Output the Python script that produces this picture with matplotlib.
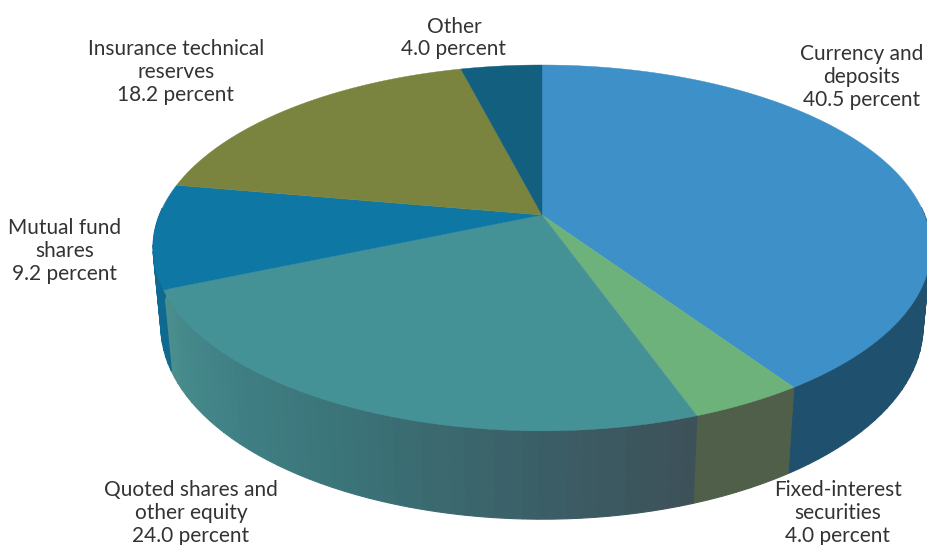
import numpy as np
import matplotlib.pyplot as plt
from matplotlib.colors import to_rgb

plt.rcParams['font.family'] = ['Lato', 'DejaVu Sans']

categories = ["Currency and\ndeposits", "Fixed-interest\nsecurities", "Quoted shares and\nother equity",
              "Mutual fund\nshares", "Insurance technical\nreserves", "Other"]
shares = [40.5, 4.0, 24.0, 9.2, 18.2, 4.0]

top_colors = ["#3E90C8", "#6DB17B", "#459296", "#0F77A3", "#7A843E", "#135F80"]
side_colors = [["#1F516F", "#1F516F"], ["#4F5F4A", "#4F5F4A"],
               ["#3D5159", "#3B6068", "#3A7277", "#3F8084", "#4A8E8E"],
               ["#0E6A90", "#0E6A90"], ["#6A7236", "#6A7236"], ["#104F6B", "#104F6B"]]
label_xy = [(862, 77), (838, 513), (191, 513), (65, 251), (176, 72), (454, 38)]

# perspective of the pie, pixels
cx, cy = 542, 215
A, B, k = 382.6, 177.0, 0.18
depth, m = 78.5, 0.02


def project(theta, r=1.0, lower=False):
    u = r*np.sin(theta)
    v = r*np.cos(theta)
    w = 1 + k*v
    if lower:
        return cx + A*u/(w + m), cy + (-B*v + depth)/(w + m)
    return cx + A*u/w, cy - B*v/w


fig = plt.figure(figsize=(9.28, 5.45), dpi=100)
ax = fig.add_axes([0, 0, 1, 1])
ax.set_xlim(0, 928)
ax.set_ylim(545, 0)
ax.axis('off')

edges = np.cumsum([0] + shares)/sum(shares)*2*np.pi

# walls first, tops go over them. narrow bands, thick edge hides the seams
for i in range(len(shares)):
    stops = np.array([to_rgb(c) for c in side_colors[i]])
    pos = np.linspace(0, 1, len(stops))
    t = np.linspace(edges[i], edges[i+1], max(int(shares[i]*2), 4))
    for j in range(len(t)-1):
        # back of the pie is hidden by the top, and its edge would show as a rim
        if np.cos((t[j]+t[j+1])/2) > 0.05:
            continue
        f = j/(len(t)-2)
        col = [np.interp(f, pos, stops[:, c]) for c in range(3)]
        tt = np.linspace(t[j], t[j+1], 8)
        x1, y1 = project(tt)
        x2, y2 = project(tt[::-1], lower=True)
        ax.fill(np.r_[x1, x2], np.r_[y1, y2], color=col, lw=0.8, zorder=2)

for i in range(len(shares)):
    t = np.linspace(edges[i], edges[i+1], 200)
    x, y = project(t)
    ax.fill(np.r_[cx, x], np.r_[cy, y], color=top_colors[i], lw=0.3, zorder=3)

for i in range(len(shares)):
    ax.text(label_xy[i][0], label_xy[i][1], "%s\n%.1f percent" % (categories[i], shares[i]),
            ha='center', va='center', fontsize=15, color="#333333", linespacing=1.16, zorder=5)

fig.savefig("out.png", dpi=100)
